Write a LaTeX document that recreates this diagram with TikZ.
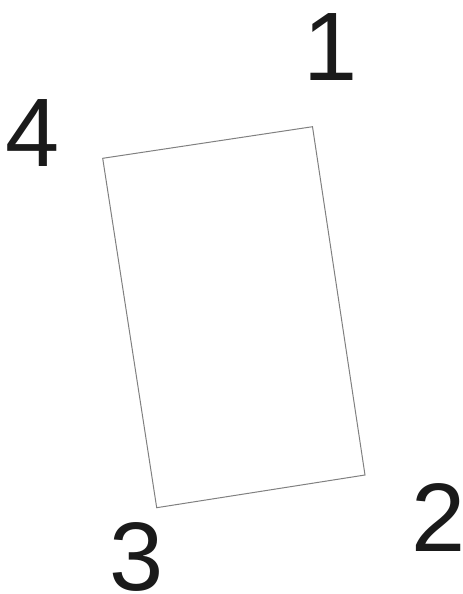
\documentclass[tikz,border=0pt]{standalone}
\usepackage{fontspec}
\setmainfont{Liberation Sans}
\tikzset{every picture/.style={line width=0.75pt}}
\tikzset{cornerlabel/.style={anchor=center,inner sep=0pt,font=\fontsize{73}{73}\selectfont,color={rgb, 255:red, 26; green, 26; blue, 26 }}}

\begin{document}
\begin{tikzpicture}[x=0.75pt,y=0.75pt,yscale=-1,xscale=1]
\useasboundingbox (0,0) rectangle (462,594);

%Shape: Rectangle [id:rect]
\coordinate (c1) at (312.5,126.7);
\coordinate (c2) at (365,475);
\coordinate (c3) at (156.7,507.7);
\coordinate (c4) at (102.7,158.3);
\draw [color={rgb, 255:red, 128; green, 128; blue, 128 }  ,draw opacity=1 ] (c1) -- (c2) -- (c3) -- (c4) -- cycle ;

% Text Node
\draw (331,46.7) node (one) [cornerlabel] {1};
% Text Node
\draw (438.5,517.5) node (two) [cornerlabel] {2};
% Text Node
\draw (137,556.5) node (three) [cornerlabel] {3};
% Text Node
\draw (32.5,133) node (four) [cornerlabel] {4};

\end{tikzpicture}
\end{document}
